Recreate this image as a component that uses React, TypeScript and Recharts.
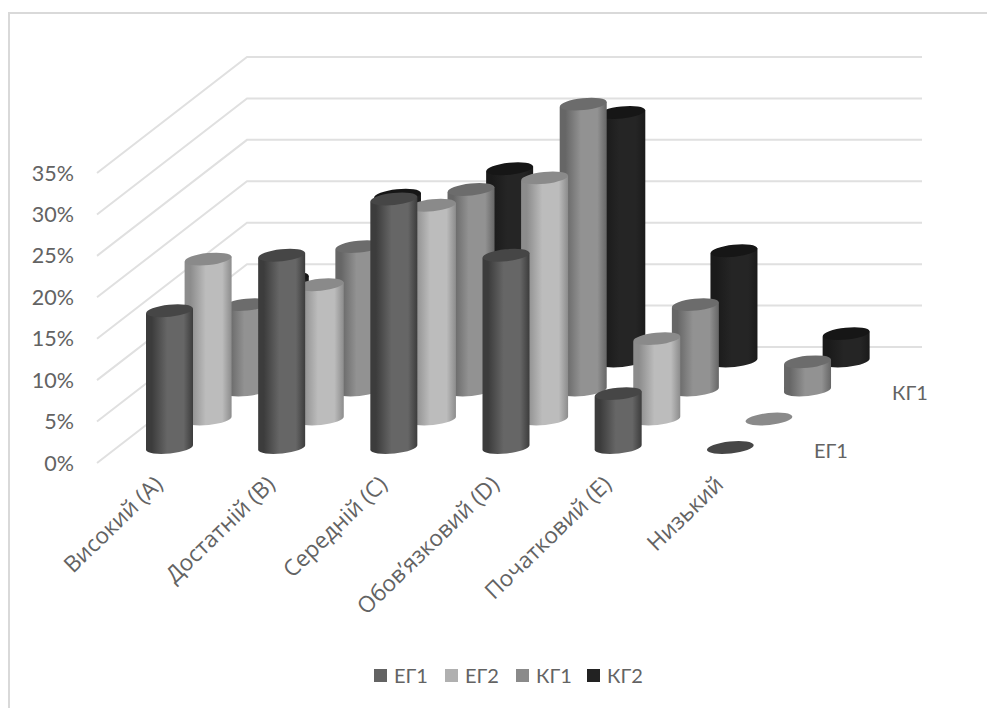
import React from "react";
import { BarChart, Bar, XAxis, YAxis, CartesianGrid, Legend } from "recharts";

// Achievement levels along the category axis
const levels = ["Високий (А)", "Достатній (В)", "Середній (С)", "Обов’язковий (D)", "Початковий (Е)", "Низький"];

// Share of students per level, in percent
const eg1 = [16.5, 23.2, 30, 23.2, 6.5, 0];
const eg2 = [19.3, 16.2, 25.8, 29.1, 9.7, 0];
const kg1 = [10.3, 17.3, 24.2, 34.5, 10.3, 3.4];
const kg2 = [10, 20, 23.2, 30, 13.3, 3.3];

const yTicks = [0, 5, 10, 15, 20, 25, 30, 35];

const rows = levels.map((level, i) => ({
  level,
  "ЕГ1": eg1[i],
  "ЕГ2": eg2[i],
  "КГ1": kg1[i],
  "КГ2": kg2[i],
}));

const TEXT = "#636363";
const FONT = "Lato, 'Open Sans', sans-serif";
const LEVEL_FONT = "'Open Sans', Lato, sans-serif";
const WALL_DX = 150;
const WALL_DY = -116;
const BAR_W = 47;

type Depth = { name: string; dx: number; dy: number; legend: string; cap: string; edge: string; mid: string };

// Drawn from the back row to the front row so nearer cylinders cover farther ones
const depthRows: Depth[] = [
  { name: "КГ2", dx: 131.8, dy: -102, legend: "#222222", cap: "#161616", edge: "#1a1a1a", mid: "#252525" },
  { name: "КГ1", dx: 93.2, dy: -73, legend: "#8a8a8a", cap: "#6c6c6c", edge: "#666666", mid: "#929292" },
  { name: "ЕГ2", dx: 54.6, dy: -44, legend: "#b0b0b0", cap: "#8a8a8a", edge: "#8c8c8c", mid: "#bcbcbc" },
  { name: "ЕГ1", dx: 16, dy: -15.5, legend: "#636363", cap: "#464646", edge: "#3c3c3c", mid: "#666666" },
];

const gradId = (name: string) => `cyl-${name}`;

function cylinder(d: Depth) {
  return (p: any) => {
    const w = BAR_W;
    const rx = w / 2;
    const ry = 6;
    const tilt = 2.5;
    const xL = p.x + d.dx;
    const xR = xL + w;
    const cx = xL + rx;
    const yTop = p.y + d.dy;
    const yBase = p.y + p.height + d.dy;
    const body =
      `M${xL},${yBase + tilt} A${rx},${ry} -6 0 0 ${xR},${yBase - tilt} ` +
      `L${xR},${yTop - tilt} L${xL},${yTop + tilt} Z`;
    return (
      <g>
        {p.height > 0.5 && <path d={body} fill={`url(#${gradId(d.name)})`} />}
        <ellipse cx={cx} cy={yTop} rx={rx} ry={ry} fill={d.cap} transform={`rotate(-6 ${cx} ${yTop})`} />
      </g>
    );
  };
}

// One wall line per value tick: across the side wall, then along the back wall
function wallLine(p: any) {
  const { x1, x2, y1 } = p;
  return (
    <polyline
      key={`wall-${y1}`}
      points={`${x1},${y1} ${x1 + WALL_DX},${y1 + WALL_DY} ${x2 + WALL_DX + 2},${y1 + WALL_DY}`}
      fill="none"
      stroke="#e0e0e0"
      strokeWidth={2}
    />
  );
}

function LevelTick(p: any) {
  const x = p.x + 11;
  const y = p.y + 15;
  return (
    <text x={x} y={y} textAnchor="end" fontSize={22.5} fill={TEXT} fontFamily={LEVEL_FONT} transform={`rotate(-44 ${x} ${y})`}>
      {p.payload.value}
    </text>
  );
}

function LegendRow(props: any) {
  const items = [...(props.payload ?? [])].sort((a: any, b: any) => String(a.value).localeCompare(String(b.value)));
  return (
    <div style={{ display: "flex", position: "absolute", left: 0, top: 0 }}>
      {items.map((it: any) => (
        <div key={it.value} style={{ width: 71, display: "flex", alignItems: "center" }}>
          <span style={{ width: 13, height: 13, background: it.color, marginRight: 7, flex: "none" }} />
          <span style={{ color: TEXT, fontFamily: FONT, fontSize: 20, lineHeight: "24px" }}>{it.value}</span>
        </div>
      ))}
    </div>
  );
}

const depthLabel = (left: number, top: number, text: string) => (
  <div style={{ position: "absolute", left, top, fontFamily: FONT, fontSize: 20, color: TEXT, lineHeight: "24px" }}>{text}</div>
);

export default function App() {
  return (
    <div style={{ position: "absolute", left: 0, top: 0, width: 987, height: 708, background: "#fff", overflow: "hidden" }}>
      <div style={{ position: "absolute", left: 8, top: 12, width: 979, height: 696, borderLeft: "2.5px solid #d9d9d9", borderTop: "2.5px solid #d9d9d9", boxSizing: "border-box" }} />
      <BarChart
        width={987}
        height={708}
        data={rows}
        margin={{ top: 173, right: 217, bottom: 145, left: 37 }}
        barSize={BAR_W}
        barGap={-BAR_W}
        style={{ position: "absolute", left: 0, top: 0 }}
      >
        <defs>
          {depthRows.map((d) => (
            <linearGradient key={d.name} id={gradId(d.name)} x1="0" y1="0" x2="1" y2="0">
              <stop offset="0" stopColor={d.edge} />
              <stop offset="0.12" stopColor={d.edge} />
              <stop offset="0.45" stopColor={d.mid} />
              <stop offset="0.8" stopColor={d.mid} />
              <stop offset="1" stopColor={d.edge} />
            </linearGradient>
          ))}
        </defs>
        <CartesianGrid vertical={false} horizontal={wallLine} />
        <XAxis dataKey="level" height={100} interval={0} axisLine={false} tickLine={false} tick={LevelTick} />
        <YAxis
          width={60}
          domain={[0, 35]}
          ticks={yTicks}
          tickFormatter={(v: number) => `${v}%`}
          axisLine={false}
          tickLine={false}
          tickSize={0}
          tickMargin={23}
          tick={{ fontSize: 21.5, fill: TEXT, fontFamily: FONT }}
        />
        {depthRows.map((d) => (
          <Bar key={d.name} dataKey={d.name} fill={d.legend} shape={cylinder(d)} isAnimationActive={false} />
        ))}
        <Legend
          layout="horizontal"
          verticalAlign="middle"
          align="center"
          content={LegendRow}
          wrapperStyle={{ top: 663, left: 374, width: 300 }}
        />
      </BarChart>
      {depthLabel(814, 438, "ЕГ1")}
      {depthLabel(892, 380, "КГ1")}
    </div>
  );
}
